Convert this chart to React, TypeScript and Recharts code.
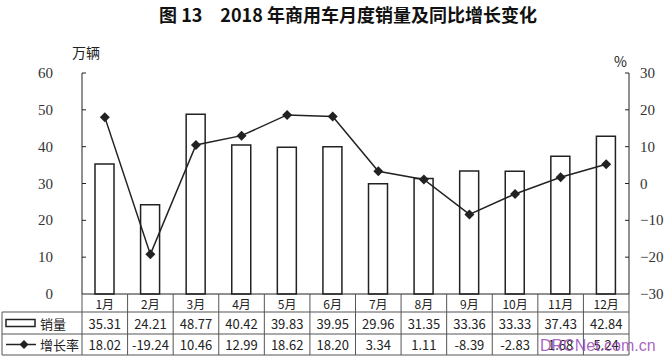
import React from "react";
import { ComposedChart, Bar, Line, XAxis, YAxis } from "recharts";

const months = ["1月", "2月", "3月", "4月", "5月", "6月", "7月", "8月", "9月", "10月", "11月", "12月"];
const sales = [35.31, 24.21, 48.77, 40.42, 39.83, 39.95, 29.96, 31.35, 33.36, 33.33, 37.43, 42.84];
const growth = [18.02, -19.24, 10.46, 12.99, 18.62, 18.2, 3.34, 1.11, -8.39, -2.83, 1.68, 5.24];
const salesTicks = [0, 10, 20, 30, 40, 50, 60];
const growthTicks = [-30, -20, -10, 0, 10, 20, 30];

const data = months.map((m, i) => ({ month: m, sales: sales[i], growth: growth[i] }));

// layout
const W = 666;
const H = 358;
const PL = 82;
const PR = 629;
const PT = 73;
const PB = 294;
const R1 = 312;
const R2 = 334;
const R3 = 355;
const TL = 2;
const colW = (PR - PL) / months.length;

const ink = "#222";
const cjk = '"Noto Sans CJK SC", "Liberation Sans", sans-serif';
const num = '"Liberation Serif", "DejaVu Serif", serif';

const LeftTick = (props: any) => {
  const { y, payload } = props;
  return (
    <g>
      {payload.value !== 0 && <line x1={PL} x2={PL + 4} y1={y} y2={y} stroke={ink} strokeWidth={1} />}
      <text x={53} y={y} textAnchor="end" dominantBaseline="central" style={{ fontFamily: num, fontSize: 15 }} fill="#333">
        {payload.value}
      </text>
    </g>
  );
};

const RightTick = (props: any) => {
  const { y, payload } = props;
  const v = payload.value;
  return (
    <g>
      {v !== -30 && <line x1={PR - 4} x2={PR} y1={y} y2={y} stroke={ink} strokeWidth={1} />}
      <text x={640} y={y} textAnchor="start" dominantBaseline="central" style={{ fontFamily: num, fontSize: 15 }} fill="#333">
        {v < 0 ? "\u2212" + Math.abs(v) : v}
      </text>
    </g>
  );
};

const Diamond = (props: any) => {
  const { cx, cy } = props;
  if (cx == null || cy == null) return null;
  const r = 5;
  return <polygon points={`${cx},${cy - r} ${cx + r},${cy} ${cx},${cy + r} ${cx - r},${cy}`} fill={ink} />;
};

const Table = () => {
  const lines: React.ReactNode[] = [];
  for (let i = 0; i <= months.length; i++) {
    const x = PL + i * colW;
    lines.push(<line key={"v" + i} x1={x} x2={x} y1={PB} y2={R3} stroke="#555" strokeWidth={1} />);
  }
  return (
    <svg width={W} height={H} style={{ position: "absolute", left: 0, top: 0, pointerEvents: "none" }}>
      <text x={348} y={22} textAnchor="middle" style={{ fontFamily: cjk, fontWeight: 700, fontSize: 18 }} fill="#111">
        图 13　2018 年商用车月度销量及同比增长变化
      </text>
      <text x={72} y={58} style={{ fontFamily: cjk, fontSize: 14 }} fill="#222">万辆</text>
      <text x={614} y={67} style={{ fontFamily: cjk, fontSize: 14 }} fill="#222">%</text>
      {lines}
      <line x1={TL} x2={TL} y1={R1} y2={R3} stroke="#555" />
      <line x1={TL} x2={PR} y1={R1} y2={R1} stroke="#555" />
      <line x1={TL} x2={PR} y1={R2} y2={R2} stroke="#555" />
      <line x1={TL} x2={PR} y1={R3} y2={R3} stroke="#555" />
      {months.map((m, i) => (
        <text key={"m" + i} x={PL + (i + 0.5) * colW} y={303} textAnchor="middle" dominantBaseline="central" style={{ fontFamily: cjk, fontSize: 12 }} fill="#222">
          {m}
        </text>
      ))}
      {sales.map((v, i) => (
        <text key={"s" + i} x={PL + (i + 0.5) * colW} y={323.5} textAnchor="middle" dominantBaseline="central" style={{ fontFamily: cjk, fontSize: 13 }} fill="#222">
          {v.toFixed(2)}
        </text>
      ))}
      {growth.map((v, i) => (
        <text key={"g" + i} x={PL + (i + 0.5) * colW} y={344.5} textAnchor="middle" dominantBaseline="central" style={{ fontFamily: cjk, fontSize: 13 }} fill="#222">
          {v.toFixed(2)}
        </text>
      ))}
      <rect x={6} y={319.5} width={29} height={7} fill="#fff" stroke={ink} strokeWidth={1.5} />
      <text x={40} y={323.5} dominantBaseline="central" style={{ fontFamily: cjk, fontSize: 13 }} fill="#222">销量</text>
      <line x1={6} x2={36} y1={344.5} y2={344.5} stroke={ink} strokeWidth={1.5} />
      <polygon points="24,340 28.5,344.5 24,349 19.5,344.5" fill={ink} />
      <text x={40} y={344.5} dominantBaseline="central" style={{ fontFamily: cjk, fontSize: 13 }} fill="#222">增长率</text>
      <text x={540} y={351} style={{ fontFamily: '"Liberation Sans", sans-serif', fontSize: 16 }} fill="#9a48b8" fillOpacity={0.85}>
        DRCNet.com.cn
      </text>
    </svg>
  );
};

export default function App() {
  return (
    <div style={{ position: "absolute", left: 0, top: 0, width: W, height: H, background: "#fff" }}>
      <ComposedChart
        width={W}
        height={H}
        data={data}
        margin={{ top: PT, right: 0, bottom: H - R1, left: PL - 50 }}
        barCategoryGap={0}
      >
        <XAxis dataKey="month" height={R1 - PB} tick={false} tickLine={false} axisLine={{ stroke: ink, strokeWidth: 1 }} />
        <YAxis
          yAxisId="left"
          width={50}
          domain={[0, 60]}
          ticks={salesTicks}
          tick={<LeftTick />}
          tickLine={false}
          axisLine={{ stroke: ink, strokeWidth: 1 }}
          interval={0}
        />
        <YAxis
          yAxisId="right"
          orientation="right"
          width={W - PR}
          domain={[-30, 30]}
          ticks={growthTicks}
          tick={<RightTick />}
          tickLine={false}
          axisLine={{ stroke: ink, strokeWidth: 1 }}
          interval={0}
        />
        <Bar yAxisId="left" dataKey="sales" barSize={19} fill="#fff" stroke={ink} strokeWidth={1.5} isAnimationActive={false} />
        <Line
          yAxisId="right"
          dataKey="growth"
          type="linear"
          stroke={ink}
          strokeWidth={1.5}
          dot={<Diamond />}
          activeDot={false}
          isAnimationActive={false}
        />
      </ComposedChart>
      <Table />
    </div>
  );
}
